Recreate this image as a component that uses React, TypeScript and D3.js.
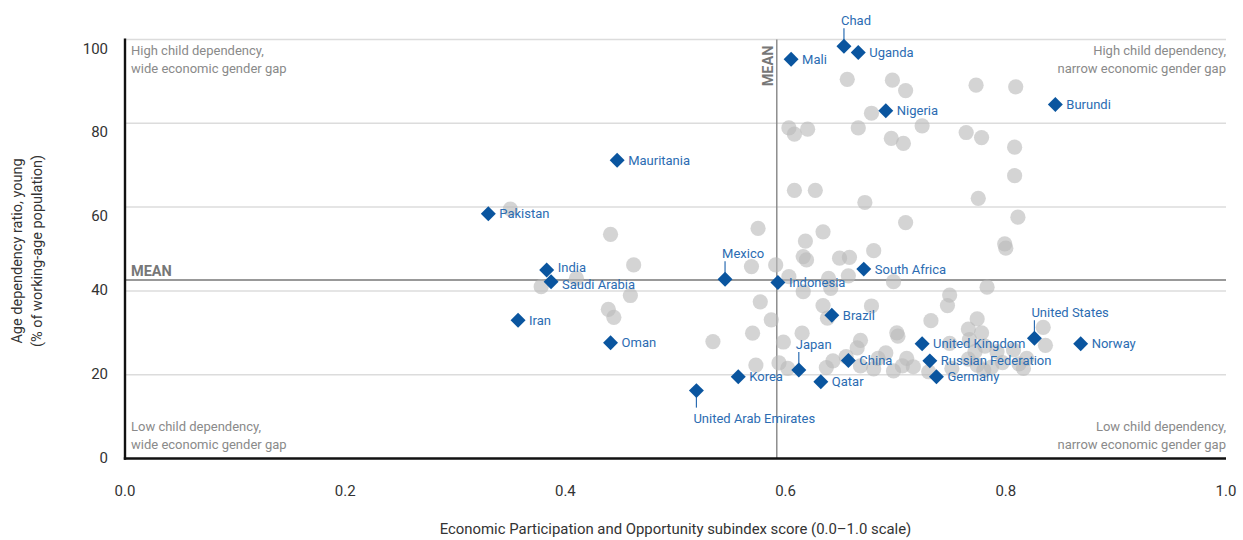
import React from "react";
import * as d3 from "d3";

// ---------- data ----------
const xTicks = [0, 0.2, 0.4, 0.6, 0.8, 1.0];
const yTicks = [0, 20, 40, 60, 80, 100];
const meanScore = 0.592;
const meanRatio = 42.6;

const countryNames = [
  "Chad", "Uganda", "Mali", "Nigeria", "Burundi", "Mauritania", "Pakistan", "India",
  "Saudi Arabia", "Iran", "Oman", "Mexico", "Indonesia", "South Africa", "Brazil", "Japan",
  "Korea", "Qatar", "China", "United Arab Emirates", "United Kingdom", "Russian Federation",
  "Germany", "United States", "Norway",
];
const countryScores = [
  0.653, 0.666, 0.605, 0.691, 0.845, 0.447, 0.330, 0.383,
  0.387, 0.357, 0.441, 0.545, 0.593, 0.671, 0.642, 0.612,
  0.557, 0.632, 0.657, 0.519, 0.724, 0.731,
  0.737, 0.826, 0.868,
];
const countryRatios = [
  98.4, 96.9, 95.3, 83.0, 84.5, 71.2, 58.4, 45.0,
  42.2, 33.0, 27.6, 42.8, 42.0, 45.2, 34.2, 21.1,
  19.5, 18.3, 23.4, 16.2, 27.4, 23.3,
  19.5, 28.7, 27.4,
];

const otherScores = [
  0.656, 0.697, 0.709, 0.773, 0.809, 0.678, 0.603, 0.608, 0.620, 0.666,
  0.724, 0.696, 0.707, 0.764, 0.778, 0.808, 0.808, 0.608, 0.627, 0.672,
  0.775, 0.350, 0.709, 0.811, 0.575, 0.441, 0.634, 0.618, 0.680, 0.799,
  0.800, 0.462, 0.569, 0.591, 0.616, 0.619, 0.649, 0.658, 0.603, 0.639,
  0.641, 0.657, 0.698, 0.783, 0.410, 0.378, 0.459, 0.616, 0.439, 0.444,
  0.577, 0.634, 0.678, 0.749, 0.747, 0.587, 0.638, 0.732, 0.774, 0.766,
  0.778, 0.834, 0.570, 0.534, 0.598, 0.615, 0.701, 0.702, 0.668, 0.665,
  0.749, 0.767, 0.781, 0.792, 0.836, 0.807, 0.772, 0.691, 0.710, 0.684,
  0.655, 0.643, 0.637, 0.668, 0.680, 0.698, 0.706, 0.716, 0.730, 0.573,
  0.594, 0.602, 0.766, 0.751, 0.774, 0.780, 0.787, 0.797, 0.812, 0.819,
  0.816,
];
const otherRatios = [
  90.5, 90.3, 87.8, 89.1, 88.7, 82.4, 78.9, 77.4, 78.6, 78.9,
  79.4, 76.4, 75.2, 77.8, 76.6, 74.3, 67.5, 64.0, 64.0, 61.1,
  62.1, 59.5, 56.3, 57.6, 54.9, 53.5, 54.1, 51.9, 49.6, 51.2,
  50.2, 46.2, 45.8, 46.2, 48.2, 47.4, 47.8, 48.0, 43.4, 43.0,
  40.6, 43.6, 42.2, 40.9, 43.0, 41.0, 38.9, 39.8, 35.6, 33.7,
  37.4, 36.5, 36.4, 39.0, 36.5, 33.1, 33.5, 32.9, 33.3, 30.9,
  30.0, 31.3, 29.9, 27.9, 27.8, 29.9, 30.0, 29.2, 28.2, 26.4,
  27.5, 28.4, 26.8, 25.5, 27.0, 25.9, 25.5, 25.2, 23.9, 23.9,
  24.3, 23.3, 21.7, 22.1, 21.4, 20.9, 22.1, 21.9, 20.7, 22.3,
  22.8, 21.5, 23.7, 21.5, 22.3, 21.1, 21.8, 22.9, 22.6, 23.9,
  21.5,
];

const quadrantLines = {
  tl: ["High child dependency,", "wide economic gender gap"],
  tr: ["High child dependency,", "narrow economic gender gap"],
  bl: ["Low child dependency,", "wide economic gender gap"],
  br: ["Low child dependency,", "narrow economic gender gap"],
};

const xTitle = "Economic Participation and Opportunity subindex score (0.0–1.0 scale)";
const yTitle = ["Age dependency ratio, young", "(% of working-age population)"];

// ---------- layout ----------
const W = 1243;
const H = 540;
const FONT = "Roboto, 'Liberation Sans', Arial, sans-serif";
const BLUE = "#0a559f";
const LABEL_BLUE = "#2b6cb2";
const labelPlacement: Record<string, string> = {
  Chad: "top",
  Mexico: "top",
  Japan: "top",
  "United States": "top",
  "United Arab Emirates": "bottom",
};
// vertical nudges for labels placed to the right (pixels)
const labelNudge: Record<string, number> = {
  India: -2.5,
  "Saudi Arabia": 3,
};

export default function App() {
  const x = d3.scaleLinear().domain([0, 1]).range([125, 1226]);
  const y = d3.scaleLinear().domain([0, 100]).range([458.5, 39.5]);
  const fmt = d3.format(".1f");
  const diamond = d3.symbol().type(d3.symbolSquare).size(112)() as string;
  const left = x(0);
  const right = x(1);

  const yLabelNudge = (v: number) => (v >= 60 ? 9 : -1);

  return (
    <svg
      width={W}
      height={H}
      style={{ position: "absolute", left: 0, top: 0, display: "block", background: "#fff" }}
      fontFamily={FONT}
    >
      {/* grid */}
      {yTicks.filter((v) => v > 0).map((v) => (
        <line key={"g" + v} x1={left} x2={right} y1={y(v)} y2={y(v)} stroke="#dcdcdc" strokeWidth={1.5} />
      ))}

      {/* mean lines */}
      <line x1={x(meanScore)} x2={x(meanScore)} y1={y(100)} y2={y(0)} stroke="#858585" strokeWidth={1.4} />
      <line x1={left} x2={right} y1={y(meanRatio)} y2={y(meanRatio)} stroke="#777" strokeWidth={1.4} />
      <text x={left + 6} y={y(meanRatio) - 4} fontSize={14.5} fontWeight={700} fill="#777">MEAN</text>
      <text
        transform={`translate(${x(meanScore) - 4},${y(100) + 6}) rotate(-90)`}
        textAnchor="end"
        fontSize={14.5}
        fontWeight={700}
        fill="#777"
      >
        MEAN
      </text>

      {/* quadrant notes */}
      <g fontSize={13} fill="#8a8a8a">
        <text x={left + 6} y={y(100) + 15}>{quadrantLines.tl[0]}</text>
        <text x={left + 6} y={y(100) + 33}>{quadrantLines.tl[1]}</text>
        <text x={right} y={y(100) + 15} textAnchor="end">{quadrantLines.tr[0]}</text>
        <text x={right} y={y(100) + 33} textAnchor="end">{quadrantLines.tr[1]}</text>
        <text x={left + 6} y={y(0) - 28}>{quadrantLines.bl[0]}</text>
        <text x={left + 6} y={y(0) - 10}>{quadrantLines.bl[1]}</text>
        <text x={right} y={y(0) - 28} textAnchor="end">{quadrantLines.br[0]}</text>
        <text x={right} y={y(0) - 10} textAnchor="end">{quadrantLines.br[1]}</text>
      </g>

      {/* other countries */}
      {otherScores.map((s, i) => (
        <circle key={"o" + i} cx={x(s)} cy={y(otherRatios[i])} r={7.6} fill="#bababa" fillOpacity={0.62} />
      ))}

      {/* highlighted countries */}
      {countryNames.map((name, i) => {
        const cx = x(countryScores[i]);
        const cy = y(countryRatios[i]);
        const place = labelPlacement[name] || "right";
        const nudge = labelNudge[name] || 0;
        return (
          <g key={name}>
            {place === "top" && (
              <line x1={cx} x2={cx} y1={cy - 18} y2={cy - 5} stroke={LABEL_BLUE} strokeWidth={1.2} />
            )}
            {place === "bottom" && (
              <line x1={cx} x2={cx} y1={cy + 5} y2={cy + 17} stroke={LABEL_BLUE} strokeWidth={1.2} />
            )}
            <path d={diamond} transform={`translate(${cx},${cy}) rotate(45)`} fill={BLUE} />
            <text
              x={place === "right" ? cx + 11 : cx - 3}
              y={place === "right" ? cy + 4.5 + nudge : place === "top" ? cy - 21 : cy + 32}
              fontSize={13}
              fill={LABEL_BLUE}
            >
              {name}
            </text>
          </g>
        );
      })}

      {/* axes */}
      <line x1={left} x2={left} y1={y(100) - 1} y2={y(0) + 1.2} stroke="#111" strokeWidth={2.4} />
      <line x1={left - 1.2} x2={right} y1={y(0)} y2={y(0)} stroke="#111" strokeWidth={2.4} />

      {yTicks.map((v) => (
        <text
          key={"yt" + v}
          x={108}
          y={y(v) + yLabelNudge(v)}
          dominantBaseline="central"
          textAnchor="end"
          fontSize={15}
          fill="#333"
        >
          {v}
        </text>
      ))}
      {xTicks.map((v) => (
        <text key={"xt" + v} x={x(v)} y={496} textAnchor="middle" fontSize={15} fill="#333">
          {fmt(v)}
        </text>
      ))}

      <text x={(left + right) / 2} y={534} textAnchor="middle" fontSize={14.9} fill="#333">
        {xTitle}
      </text>
      <g transform="translate(0,251)">
        <text transform="translate(22,0) rotate(-90)" textAnchor="middle" fontSize={14.5} fill="#333">
          {yTitle[0]}
        </text>
        <text transform="translate(42,0) rotate(-90)" textAnchor="middle" fontSize={14.5} fill="#333">
          {yTitle[1]}
        </text>
      </g>
    </svg>
  );
}
